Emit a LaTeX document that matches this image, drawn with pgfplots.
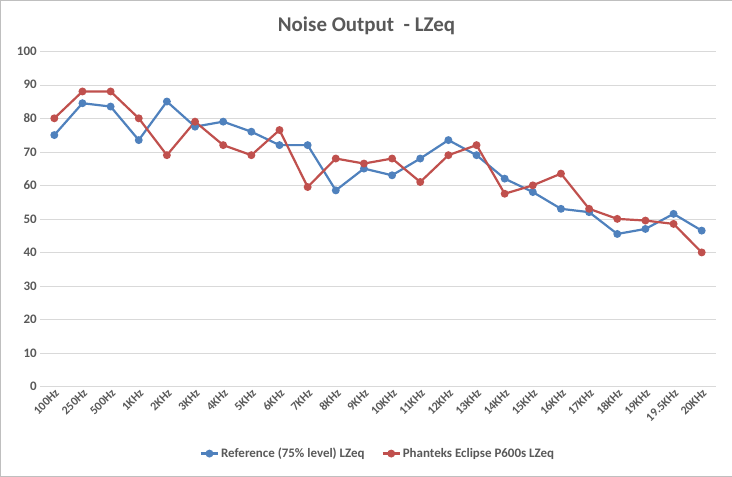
\documentclass[border=0pt]{standalone}
\usepackage{pgfplots}
\pgfplotsset{compat=1.18}
\usepackage{fontspec}
\setmainfont{Carlito}
\definecolor{bl}{HTML}{4F81BD}
\definecolor{rd}{HTML}{C0504D}
\definecolor{tx}{HTML}{595959}
\begin{document}
\begin{tikzpicture}
\draw[draw=gray!50,fill=white] (0,0) rectangle (731bp,476bp);
\node[font=\fontsize{21}{24}\selectfont\bfseries,text=tx] at (366bp,450bp) {Noise Output\ \ - LZeq};
\begin{axis}[at={(40bp,90bp)},anchor=south west,scale only axis,width=675bp,height=335bp,
 xmin=-0.5,xmax=23.5,ymin=0,ymax=100,ytick={0,10,...,100},
 xtick={0,...,23},
 xticklabels={100Hz,250Hz,500Hz,1KHz,2KHz,3KHz,4KHz,5KHz,6KHz,7KHz,8KHz,9KHz,10KHz,11KHz,12KHz,13KHz,14KHz,15KHz,16KHz,17KHz,18KHz,19KHz,19.5KHz,20KHz},
 x tick label style={rotate=45,anchor=north east,font=\fontsize{12}{14}\selectfont\bfseries,text=tx,inner sep=1pt},
 y tick label style={font=\fontsize{13}{15}\selectfont\bfseries,text=tx},
 /pgf/number format/assume math mode=true,
 ymajorgrids,grid style={gray!30},axis line style={draw=none},
 y axis line style={draw=none},x axis line style={draw=gray!60},
 major tick length=0pt,
 legend style={at={(0.5,-0.2)},anchor=center,draw=none,legend columns=2,font=\fontsize{13}{15}\selectfont\bfseries,text=tx,/tikz/every even column/.append style={column sep=15pt}},
]
\addplot[bl,line width=2.2pt,mark=*,mark size=2.8pt] coordinates {(0,75)(1,84.5)(2,83.5)(3,73.5)(4,85)(5,77.5)(6,79)(7,76)(8,72)(9,72)(10,58.5)(11,65)(12,63)(13,68)(14,73.5)(15,69)(16,62)(17,58)(18,53)(19,52)(20,45.5)(21,47)(22,51.5)(23,46.5)};
\addlegendentry{Reference (75\% level) LZeq}
\addplot[rd,line width=2.2pt,mark=*,mark size=2.8pt] coordinates {(0,80)(1,88)(2,88)(3,80)(4,69)(5,79)(6,72)(7,69)(8,76.5)(9,59.5)(10,68)(11,66.5)(12,68)(13,61)(14,69)(15,72)(16,57.5)(17,60)(18,63.5)(19,53)(20,50)(21,49.5)(22,48.5)(23,40)};
\addlegendentry{Phanteks Eclipse P600s LZeq}
\end{axis}
\end{tikzpicture}
\end{document}
